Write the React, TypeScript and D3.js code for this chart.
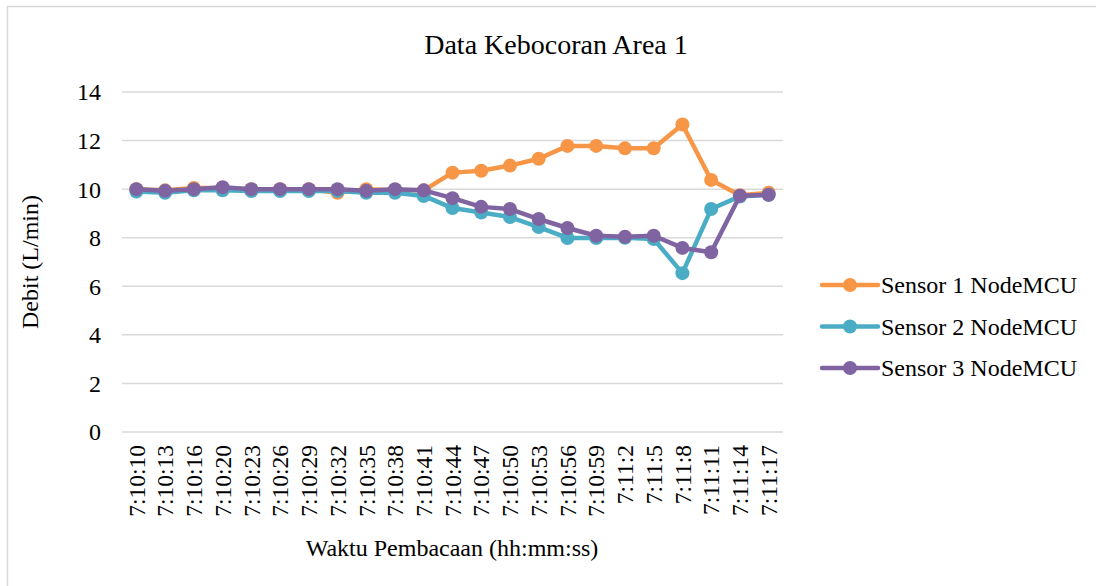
import React from "react";
import * as d3 from "d3";

const categories = ["7:10:10","7:10:13","7:10:16","7:10:20","7:10:23","7:10:26","7:10:29","7:10:32","7:10:35","7:10:38","7:10:41","7:10:44","7:10:47","7:10:50","7:10:53","7:10:56","7:10:59","7:11:2","7:11:5","7:11:8","7:11:11","7:11:14","7:11:17"];
const sensor1 = [10.0, 9.95, 10.05, 10.05, 10.0, 10.0, 10.0, 9.85, 10.0, 9.95, 9.95, 10.68, 10.76, 10.97, 11.25, 11.78, 11.78, 11.68, 11.68, 12.66, 10.38, 9.75, 9.85];
const sensor2 = [9.9, 9.85, 9.95, 9.95, 9.92, 9.92, 9.92, 9.92, 9.85, 9.85, 9.72, 9.22, 9.04, 8.85, 8.44, 7.99, 7.99, 8.0, 7.95, 6.54, 9.18, 9.7, 9.77];
const sensor3 = [10.0, 9.93, 10.0, 10.08, 10.0, 10.0, 10.0, 10.0, 9.93, 10.0, 9.95, 9.63, 9.27, 9.18, 8.77, 8.4, 8.08, 8.04, 8.08, 7.58, 7.4, 9.73, 9.77];
const seriesNames = ["Sensor 1 NodeMCU", "Sensor 2 NodeMCU", "Sensor 3 NodeMCU"];
const seriesColors = ["#F79646", "#4BACC6", "#8064A2"];
const yTicks = [0, 2, 4, 6, 8, 10, 12, 14];
const title = "Data Kebocoran Area 1";
const xTitle = "Waktu Pembacaan (hh:mm:ss)";
const yTitle = "Debit (L/min)";

export default function App() {
  const W = 1096, H = 586;
  const plot = { left: 122, right: 783, top: 92, bottom: 432 };
  const x = d3.scaleBand<string>().domain(categories).range([plot.left, plot.right]);
  const y = d3.scaleLinear().domain([0, 14]).range([plot.bottom, plot.top]);
  const cx = (c: string) => (x(c) as number) + x.bandwidth() / 2;
  const line = d3.line<number>().x((_, i) => cx(categories[i])).y((v) => y(v));
  const data = [sensor1, sensor2, sensor3];
  const font = "'Liberation Serif', 'Times New Roman', serif";

  return (
    <svg width={W} height={H} style={{ position: "absolute", left: 0, top: 0, display: "block" }} fontFamily={font}>
      <rect x={0} y={0} width={W} height={H} fill="#fff" />
      <rect x={7.5} y={6.5} width={W + 10} height={H + 10} fill="#fff" stroke="#D9D9D9" strokeWidth={1.5} />
      <text x={556} y={54} textAnchor="middle" fontSize={28} fill="#000">{title}</text>
      {yTicks.map((t) => (
        <g key={t}>
          <line x1={plot.left} x2={plot.right} y1={y(t)} y2={y(t)} stroke="#D9D9D9" strokeWidth={1.5} />
          <text x={101} y={y(t)} dy="0.35em" textAnchor="end" fontSize={24} fill="#000">{t}</text>
        </g>
      ))}
      {categories.map((c) => (
        <text key={c} transform={`translate(${cx(c)},445) rotate(-90)`} textAnchor="end" dy="0.35em" fontSize={23.5} fill="#000">{c}</text>
      ))}
      <text x={452} y={556} textAnchor="middle" fontSize={24} fill="#000">{xTitle}</text>
      <text transform={`translate(38,262) rotate(-90)`} textAnchor="middle" fontSize={24} fill="#000">{yTitle}</text>
      {data.map((s, si) => (
        <g key={si}>
          <path d={line(s) || ""} fill="none" stroke={seriesColors[si]} strokeWidth={4.5} strokeLinejoin="round" strokeLinecap="round" />
          {s.map((v, i) => (
            <circle key={i} cx={cx(categories[i])} cy={y(v)} r={7} fill={seriesColors[si]} />
          ))}
        </g>
      ))}
      {seriesNames.map((n, si) => {
        const ly = 285 + si * 41.5;
        return (
          <g key={n}>
            <line x1={822} x2={878} y1={ly} y2={ly} stroke={seriesColors[si]} strokeWidth={4.5} strokeLinecap="round" />
            <circle cx={850} cy={ly} r={7} fill={seriesColors[si]} />
            <text x={881} y={ly} dy="0.35em" fontSize={24} fill="#000">{n}</text>
          </g>
        );
      })}
    </svg>
  );
}
